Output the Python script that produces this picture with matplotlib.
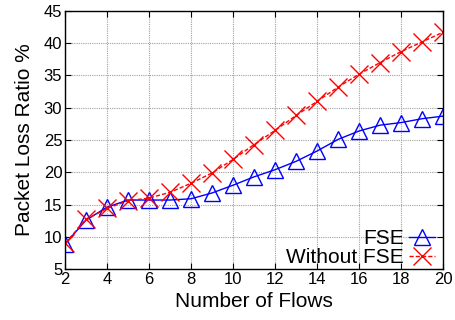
import matplotlib
matplotlib.use("Agg")
import matplotlib.pyplot as plt
from matplotlib.ticker import MultipleLocator

flows = list(range(2, 21))
fse = [8.9, 12.6, 14.6, 15.7, 15.7, 15.7, 15.9, 16.8, 18.0, 19.3, 20.4, 21.7, 23.3, 25.1, 26.4, 27.3, 27.7, 28.3, 28.7]
without_fse = [9.0, 12.7, 14.4, 15.6, 16.0, 16.9, 18.3, 19.9, 22.0, 24.3, 26.5, 28.8, 31.0, 33.2, 35.2, 37.0, 38.7, 40.2, 41.7]

plt.rcParams['font.family'] = ['Liberation Sans', 'DejaVu Sans']

fig = plt.figure(figsize=(4.55, 3.2), dpi=100)
ax = fig.add_axes([0.143, 0.159, 0.831, 0.807])

ax.plot(flows, fse, color='#0000ff', lw=1.0, marker='^', ms=11, mfc='none',
        mec='#0000ff', mew=1.0, label='FSE')
ax.plot(flows, without_fse, color='#ff0000', lw=1.0, ls=(0, (3, 1.5)), marker='x',
        ms=13, mec='#ff0000', mew=1.0, label='Without FSE')

ax.set_xlim(2, 20)
ax.set_ylim(5, 45)
ax.xaxis.set_major_locator(MultipleLocator(2))
ax.yaxis.set_major_locator(MultipleLocator(5))
ax.grid(True, color='#a0a0a0', ls=(0, (1, 1)), lw=0.8)
ax.tick_params(direction='in', top=True, right=True, length=4, width=0.8,
               labelsize=12, pad=2)
for s in ax.spines.values():
    s.set_linewidth(1.0)

ax.set_xlabel('Number of Flows', fontsize=15, labelpad=4)
ax.set_ylabel('Packet Loss Ratio %', fontsize=15, labelpad=7)

leg = ax.legend(loc='lower right', frameon=False, markerfirst=False,
                fontsize=15, handlelength=1.25, handletextpad=0.25,
                labelspacing=0.0, borderaxespad=0.0, borderpad=0.1,
                bbox_to_anchor=(0.985, 0.0))
for t in leg.get_texts():
    t.set_ha('right')

fig.savefig('out.png', dpi=100)
